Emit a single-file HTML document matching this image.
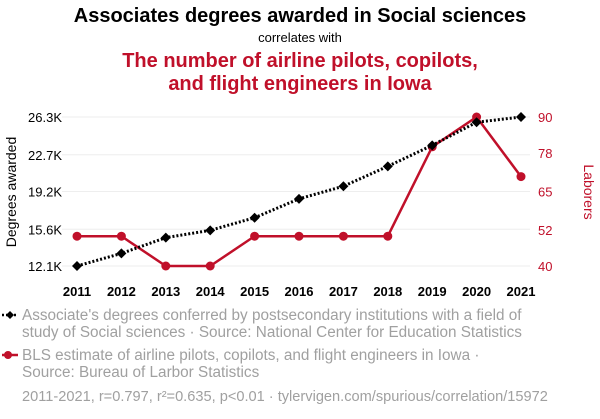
<!DOCTYPE html>
<html><head><meta charset="utf-8"><style>
body{margin:0;background:#fff;width:600px;height:414px;overflow:hidden;font-family:"Liberation Sans",sans-serif}
</style></head><body>
<svg width="600" height="414" xmlns="http://www.w3.org/2000/svg" font-family="Liberation Sans, sans-serif">
<text x="300" y="22" text-anchor="middle" font-size="20" font-weight="bold" fill="#000">Associates degrees awarded in Social sciences</text>
<text x="300" y="42" text-anchor="middle" font-size="13" fill="#000">correlates with</text>
<text x="300" y="67" text-anchor="middle" font-size="20" font-weight="bold" fill="#c0102a">The number of airline pilots, copilots,</text>
<text x="300" y="90" text-anchor="middle" font-size="20" font-weight="bold" fill="#c0102a">and flight engineers in Iowa</text>
<g id="grid"></g><g id="axes"></g><g id="marks"></g>
<text transform="translate(16,192) rotate(-90)" text-anchor="middle" font-size="14" fill="#000">Degrees awarded</text>
<text transform="translate(584,192) rotate(90)" text-anchor="middle" font-size="14" fill="#c0102a">Laborers</text>
<g>
<line x1="2" y1="315" x2="18" y2="315" stroke="#000" stroke-width="2.5" stroke-dasharray="2,2"/>
<path d="M10 311 L14 315 L10 319 L6 315Z" fill="#000"/>
<text x="22" y="320" font-size="15.3" fill="#a0a0a0">Associate's degrees conferred by postsecondary institutions with a field of</text>
<text x="22" y="337" font-size="15.3" fill="#a0a0a0">study of Social sciences · Source: National Center for Education Statistics</text>
</g>
<g>
<line x1="2" y1="355" x2="18" y2="355" stroke="#c0102a" stroke-width="2.5"/>
<circle cx="8" cy="355" r="4" fill="#c0102a"/>
<text x="22" y="360" font-size="15.3" fill="#a0a0a0">BLS estimate of airline pilots, copilots, and flight engineers in Iowa ·</text>
<text x="22" y="377" font-size="15.3" fill="#a0a0a0">Source: Bureau of Larbor Statistics</text>
</g>
<text x="22" y="401" font-size="14.6" fill="#a0a0a0">2011-2021, r=0.797, r²=0.635, p&lt;0.01 · tylervigen.com/spurious/correlation/15972</text>
</svg>
<script>
const years=[2011,2012,2013,2014,2015,2016,2017,2018,2019,2020,2021];
const degrees=[12.1,13.3,14.8,15.5,16.7,18.5,19.7,21.6,23.6,25.8,26.3];
const laborers=[50,50,40,40,50,50,50,50,80,90,70];
const leftTicks=[12.1,15.6,19.2,22.7,26.3];
const rightTicks=[40,52,65,78,90];
const NS="http://www.w3.org/2000/svg";
const x=y=>77+(y-2011)*(521-77)/10;
const yl=v=>266-(v-12.1)*(266-117)/(26.3-12.1);
const yr=v=>266-(v-40)*(266-117)/(90-40);
function mk(t,a,p){const e=document.createElementNS(NS,t);for(const k in a)e.setAttribute(k,a[k]);(p||document.getElementById('marks')).appendChild(e);return e;}
const grid=document.getElementById('grid'),axes=document.getElementById('axes');
leftTicks.forEach((v,i)=>{
 const g=mk('line',{x1:62,x2:530,y1:yl(v),y2:yl(v),stroke:'#eee'},grid);
 
 
 const t=mk('text',{x:62,y:yl(v)+5,'text-anchor':'end','font-size':13,fill:'#000'},axes);t.textContent=v.toFixed(1)+'K';
 
 
});
rightTicks.forEach(v=>{
 const t=mk('text',{x:538,y:yr(v)+5,'font-size':13,fill:'#c0102a'},axes);t.textContent=v;
 
 
});
years.forEach(y=>{
 const t=mk('text',{x:x(y),y:296,'text-anchor':'middle','font-size':13,'font-weight':'bold',fill:'#000'},axes);t.textContent=y;
 
 
});
const rl=mk('polyline',{points:years.map((y,i)=>x(y)+','+yr(laborers[i])).join(' '),fill:'none',stroke:'#c0102a','stroke-width':2.5});


years.forEach((y,i)=>{const c=mk('circle',{cx:x(y),cy:yr(laborers[i]),r:4.5,fill:'#c0102a'});
 
 });
const bl=mk('polyline',{points:years.map((y,i)=>x(y)+','+yl(degrees[i])).join(' '),fill:'none',stroke:'#000','stroke-width':3,'stroke-dasharray':'2,2'});


years.forEach((y,i)=>{const cx=x(y),cy=yl(degrees[i]);
 const p=mk('path',{d:`M${cx} ${cy-5}L${cx+5} ${cy}L${cx} ${cy+5}L${cx-5} ${cy}Z`,fill:'#000'});
 
 });
</script>
</body></html>
